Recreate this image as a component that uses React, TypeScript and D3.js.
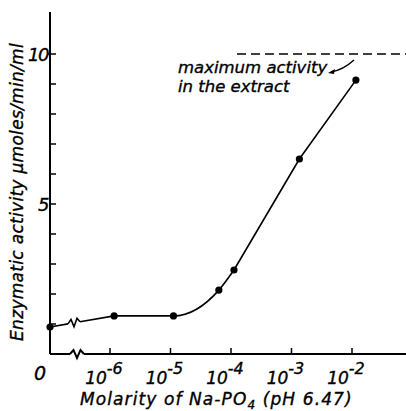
import React from "react";
import * as d3 from "d3";

const molarity = [0, 1.17e-6, 1.12e-5, 6.3e-5, 1.12e-4, 1.35e-3, 1.16e-2];
const activity = [0.9, 1.27, 1.27, 2.13, 2.8, 6.5, 9.13];
const xTickExps = [-6, -5, -4, -3, -2];
const yTicks = [1, 2, 3, 4, 5, 6, 7, 8, 9, 10];
const yTickLabels = [5, 10];
const maxActivity = 10;

const W = 406;
const H = 411;
const FONT = "'DejaVu Sans', sans-serif";
const txt = { fontFamily: FONT, fontStyle: "italic", stroke: "#000", strokeWidth: 0.35 } as const;

export default function App() {
  const x0 = 50; // position of zero on x
  const xLog = d3.scaleLog().domain([1e-6, 1e-2]).range([110, 352]);
  const y = d3.scaleLinear().domain([0, 10]).range([354, 54]);
  const xPos = (m: number) => (m === 0 ? x0 : xLog(m));

  const pts: [number, number][] = molarity.map((m, i) => [xPos(m), y(activity[i])]);
  const curvePath = d3.line().curve(d3.curveMonotoneX)(pts.slice(1, 5)) || "";
  const straightPath = d3.line()(pts.slice(4)) || "";

  const [ax, ay] = pts[0];
  const [bx, by] = pts[1];
  const lerpY = (xx: number) => ay + ((by - ay) * (xx - ax)) / (bx - ax);
  const s0 = 68, s1 = 80;
  const zig = (xs: number, xe: number, yf: (v: number) => number) => {
    const n = 4;
    const step = (xe - xs) / n;
    let p = `M${xs},${yf(xs)}`;
    for (let i = 1; i <= n; i++) {
      const xx = xs + step * i;
      const off = i === n ? 0 : i % 2 === 1 ? -4 : 4;
      p += ` L${xx},${yf(xx) + off}`;
    }
    return p;
  };
  const yAxis = y(0);

  return (
    <svg width={W} height={H} style={{ display: "block", position: "absolute", left: 0, top: 0, background: "#fff" }}>
      {/* y axis */}
      <line x1={x0} x2={x0} y1={12} y2={yAxis} stroke="#000" strokeWidth={2} />
      {yTicks.map((t) => (
        <line key={t} x1={t === 10 ? x0 - 3 : x0} x2={x0 + 6} y1={y(t)} y2={y(t)} stroke="#000" strokeWidth={1.5} />
      ))}
      {yTickLabels.map((t) => (
        <text key={t} x={x0 - 2} y={y(t) + 7} textAnchor="end" fontSize={18} letterSpacing={-1.5} {...txt}>
          {t}
        </text>
      ))}
      <text x={40} y={380} textAnchor="middle" fontSize={19} {...txt}>0</text>

      {/* x axis with break */}
      <line x1={x0} x2={70} y1={yAxis} y2={yAxis} stroke="#000" strokeWidth={2} />
      <path d={zig(70, 84, () => yAxis)} fill="none" stroke="#000" strokeWidth={2} />
      <line x1={84} x2={W} y1={yAxis} y2={yAxis} stroke="#000" strokeWidth={2} />
      {xTickExps.map((e) => (
        <g key={e}>
          <line x1={xLog(Math.pow(10, e))} x2={xLog(Math.pow(10, e))} y1={yAxis} y2={yAxis - 6} stroke="#000" strokeWidth={1.5} />
          <text x={xLog(Math.pow(10, e)) - 6} y={384} textAnchor="middle" fontSize={17} {...txt}>
            10<tspan dy={-10} fontSize={16}>{`-${-e}`}</tspan>
          </text>
        </g>
      ))}

      {/* data line */}
      <line x1={ax} y1={ay} x2={s0} y2={lerpY(s0)} stroke="#000" strokeWidth={1.6} />
      <path d={zig(s0, s1, lerpY)} fill="none" stroke="#000" strokeWidth={1.6} />
      <line x1={s1} y1={lerpY(s1)} x2={bx} y2={by} stroke="#000" strokeWidth={1.6} />
      <path d={curvePath} fill="none" stroke="#000" strokeWidth={1.6} />
      <path d={straightPath} fill="none" stroke="#000" strokeWidth={1.6} />
      {pts.map(([px, py], i) => (
        <circle key={i} cx={px} cy={py} r={3.6} fill="#000" />
      ))}

      {/* max activity dashed line */}
      <line x1={237} x2={W} y1={y(maxActivity)} y2={y(maxActivity)} stroke="#000" strokeWidth={1.6} strokeDasharray="9,5" />
      <text x={178} y={73} fontSize={16.5} {...txt}>maximum activity</text>
      <text x={178} y={92} fontSize={16.5} {...txt}>in the extract</text>
      <path d="M331,72 Q343,70 354,60" fill="none" stroke="#000" strokeWidth={1.5} />
      <path d="M328,73 L335,69 L334,74 Z" fill="#000" />

      {/* axis labels */}
      <text transform="translate(23,192) rotate(-90)" textAnchor="middle" fontSize={17} letterSpacing={0.3} {...txt}>
        Enzymatic activity  μmoles/min/ml
      </text>
      <text x={80} y={405} fontSize={17} letterSpacing={1.1} {...txt}>
        Molarity of Na-PO<tspan dy={4} fontSize={12}>4</tspan><tspan dy={-4}>{"   (pH 6.47)"}</tspan>
      </text>
    </svg>
  );
}
